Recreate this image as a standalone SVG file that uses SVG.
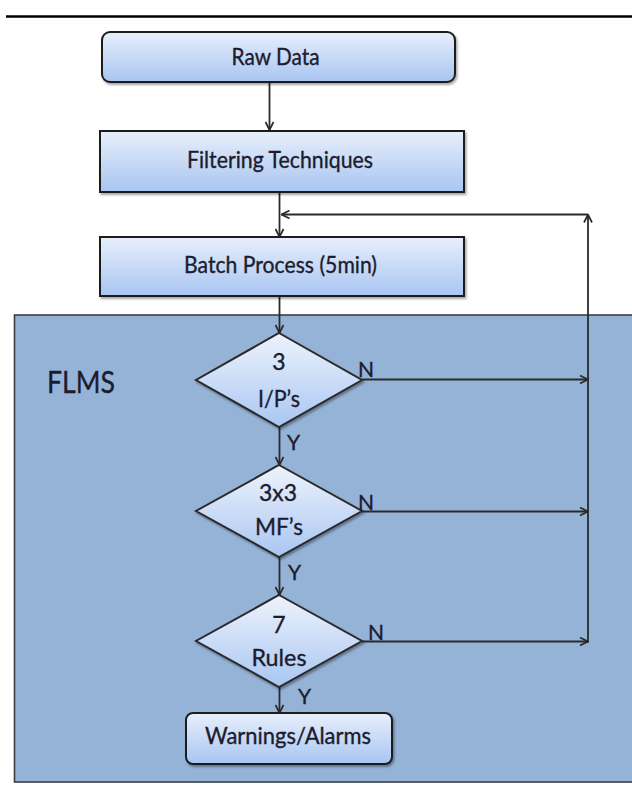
<svg xmlns="http://www.w3.org/2000/svg" width="632" height="787" viewBox="0 0 632 787">
  <defs>
    <linearGradient id="boxGrad" x1="0" y1="0" x2="0" y2="1">
      <stop offset="0" stop-color="#e8effb"/>
      <stop offset="1" stop-color="#a8c5f2"/>
    </linearGradient>
    <linearGradient id="diaGrad" x1="0" y1="0" x2="0" y2="1">
      <stop offset="0" stop-color="#eef3fc"/>
      <stop offset="1" stop-color="#a9c6f2"/>
    </linearGradient>
    <filter id="shadow" x="-10%" y="-20%" width="120%" height="150%">
      <feDropShadow dx="1.5" dy="2" stdDeviation="1.2" flood-color="#000" flood-opacity="0.35"/>
    </filter>
    <marker id="arrow" viewBox="0 0 10 10" refX="9" refY="5" markerWidth="10" markerHeight="10" markerUnits="userSpaceOnUse" orient="auto">
      <path d="M1,1 L9,5 L1,9" fill="none" stroke="#2a2a2a" stroke-width="1.7"/>
    </marker>
  </defs>
  <style>
    .box { fill: url(#boxGrad); stroke: #1e1e1e; stroke-width: 2; filter: url(#shadow); }
    .dia { fill: url(#diaGrad); stroke: #2a2a2a; stroke-width: 2; filter: url(#shadow); }
    .lbl { font-family: Lato, "Liberation Sans", sans-serif; fill: #1c1c2e; stroke: #1c1c2e; stroke-width: 0.35; text-anchor: middle; }
    .big { font-size: 23px; }
    .yn { font-family: Lato, "Liberation Sans", sans-serif; fill: #1c1c2e; stroke: #1c1c2e; stroke-width: 0.35; font-size: 21px; }
    .conn line { stroke: #2a2a2a; stroke-width: 1.8; fill: none; }
  </style>

  <rect x="0" y="0" width="632" height="787" fill="#ffffff"/>

  <!-- header rule -->
  <line x1="6" y1="16.5" x2="632" y2="16.5" stroke="#000" stroke-width="2.5"/>

  <!-- FLMS panel -->
  <g id="flms-panel">
    <rect x="14.5" y="315" width="630" height="467" fill="#95b3d7" stroke="#3a3f47" stroke-width="1.6"/>
    <text class="lbl" x="81" y="393" font-size="31" textLength="68" lengthAdjust="spacingAndGlyphs">FLMS</text>
  </g>

  <!-- connectors -->
  <g id="connectors" class="conn">
    <line x1="269.5" y1="83" x2="269.5" y2="130" marker-end="url(#arrow)"/>
    <line x1="279.5" y1="192" x2="279.5" y2="237" marker-end="url(#arrow)"/>
    <line x1="279.5" y1="296" x2="279.5" y2="333" marker-end="url(#arrow)"/>
    <line x1="279.5" y1="427" x2="279.5" y2="465" marker-end="url(#arrow)"/>
    <line x1="279.5" y1="557" x2="279.5" y2="595" marker-end="url(#arrow)"/>
    <line x1="279.5" y1="687" x2="279.5" y2="713" marker-end="url(#arrow)"/>
    <line x1="362" y1="379.5" x2="588" y2="379.5" marker-end="url(#arrow)"/>
    <line x1="362" y1="511.5" x2="588" y2="511.5" marker-end="url(#arrow)"/>
    <line x1="362" y1="641.5" x2="588" y2="641.5" marker-end="url(#arrow)"/>
    <line x1="588" y1="642.5" x2="588" y2="214.5" marker-end="url(#arrow)"/>
    <line x1="588" y1="214.5" x2="281.5" y2="214.5" marker-end="url(#arrow)"/>
  </g>

  <g id="raw-data">
    <rect class="box" x="102" y="32" width="353" height="50" rx="8" ry="8"/>
    <text class="lbl big" x="275.5" y="65" textLength="88" lengthAdjust="spacingAndGlyphs">Raw Data</text>
  </g>

  <g id="filtering">
    <rect class="box" x="100" y="131" width="364" height="61"/>
    <text class="lbl big" x="280" y="168" textLength="186" lengthAdjust="spacingAndGlyphs">Filtering Techniques</text>
  </g>

  <g id="batch">
    <rect class="box" x="100" y="237" width="364" height="59"/>
    <text class="lbl big" x="280.5" y="273" textLength="193" lengthAdjust="spacingAndGlyphs">Batch Process (5min)</text>
  </g>

  <g id="decision-inputs">
    <polygon class="dia" points="279,333 362,380 279,427 196,380"/>
    <text class="lbl big" x="279" y="370">3</text>
    <text class="lbl big" x="279" y="407" textLength="42" lengthAdjust="spacingAndGlyphs">I/P’s</text>
  </g>

  <g id="decision-mfs">
    <polygon class="dia" points="279,465 362,511 279,557 196,511"/>
    <text class="lbl big" x="278" y="501" textLength="38" lengthAdjust="spacingAndGlyphs">3x3</text>
    <text class="lbl big" x="279" y="535" textLength="48" lengthAdjust="spacingAndGlyphs">MF’s</text>
  </g>

  <g id="decision-rules">
    <polygon class="dia" points="279,595 362,641 279,687 196,641"/>
    <text class="lbl big" x="279" y="633">7</text>
    <text class="lbl big" x="279" y="666" textLength="55" lengthAdjust="spacingAndGlyphs">Rules</text>
  </g>

  <g id="warnings">
    <rect class="box" x="186" y="713" width="206" height="51" rx="7" ry="7"/>
    <text class="lbl big" x="288" y="744" textLength="166" lengthAdjust="spacingAndGlyphs">Warnings/Alarms</text>
  </g>

  <g id="branch-labels">
    <text class="yn" x="358" y="377">N</text>
    <text class="yn" x="358" y="510">N</text>
    <text class="yn" x="368" y="640">N</text>
    <text class="yn" x="287" y="450">Y</text>
    <text class="yn" x="288" y="580">Y</text>
    <text class="yn" x="298" y="704">Y</text>
  </g>
</svg>
